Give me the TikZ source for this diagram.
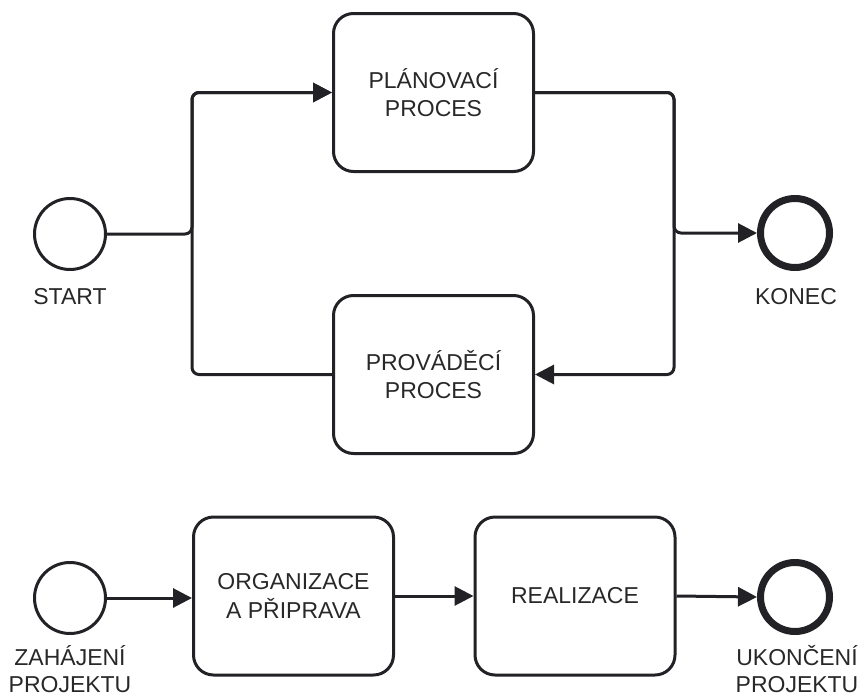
\documentclass[tikz,border=0pt]{standalone}
\usepackage{fontspec}
\setmainfont{Liberation Sans}
\usetikzlibrary{arrows.meta}
\definecolor{ink}{RGB}{34,34,38}
\definecolor{txt}{RGB}{40,40,40}
\begin{document}
\begin{tikzpicture}[x=1pt,y=-1pt,
  every node/.style={text=txt,font=\fontsize{23}{28.5}\selectfont},
  task/.style={draw=ink,line width=3pt,rounded corners=20pt,minimum width=200pt,minimum height=158pt,align=center,inner sep=0pt},
  startev/.style={draw=ink,circle,line width=3pt,minimum size=71pt,inner sep=0pt},
  endev/.style={draw=ink,circle,line width=7pt,minimum size=69pt,inner sep=0pt},
  lbl/.style={align=center,inner sep=0pt},
  lbltwo/.style={align=center,inner sep=0pt,font=\fontsize{23}{27}\selectfont},
  flow/.style={draw=ink,line width=3pt,rounded corners=7pt,-{Triangle[length=19pt,width=19pt]}}]
\useasboundingbox (0,0) rectangle (859,696);
% top
\node[startev] (start) at (70,234) {};
\node[lbl] (startl) at (70,297) {START};
\node[endev] (konec) at (795,233) {};
\node[lbl] (konecl) at (796,297) {KONEC};
\node[task] (plan) at (433.5,92.5) {PLÁNOVACÍ\\PROCES};
\node[task] (prov) at (433.5,374.5) {PROVÁDĚCÍ\\PROCES};
\coordinate (jlT) at (192,92.5);
\coordinate (jlB) at (192,374.5);
\coordinate (jrT) at (674,92.5);
\coordinate (jrB) at (674,374.5);
\draw[flow] (start.east) -- (jlT |- start.east) -- (jlT) -- (plan.west);
\draw[flow] (prov.west) -- (jlB) -- (jlT) -- (plan.west);
\draw[flow] (plan.east) -- (jrT) -- (jrT |- konec.west) -- (konec.west);
\draw[flow] (plan.east) -- (jrT) -- (jrB) -- (prov.east);
% bottom
\node[startev] (zah) at (70,598) {};
\node[lbltwo, anchor=south] (zahl) at (70,693) {ZAHÁJENÍ\\PROJEKTU};
\node[task] (org) at (293.5,596) {ORGANIZACE\\A PŘIPRAVA};
\node[task] (real) at (575,596) {REALIZACE};
\node[endev] (ukon) at (795,597) {};
\node[lbltwo, anchor=south] (ukonl) at (797,693) {UKONČENÍ\\PROJEKTU};
\draw[flow] (zah.east) -- (org.west |- zah.east);
\draw[flow] (org.east) -- (real.west);
\draw[flow] (real.east) -- (ukon.west);
\end{tikzpicture}
\end{document}
